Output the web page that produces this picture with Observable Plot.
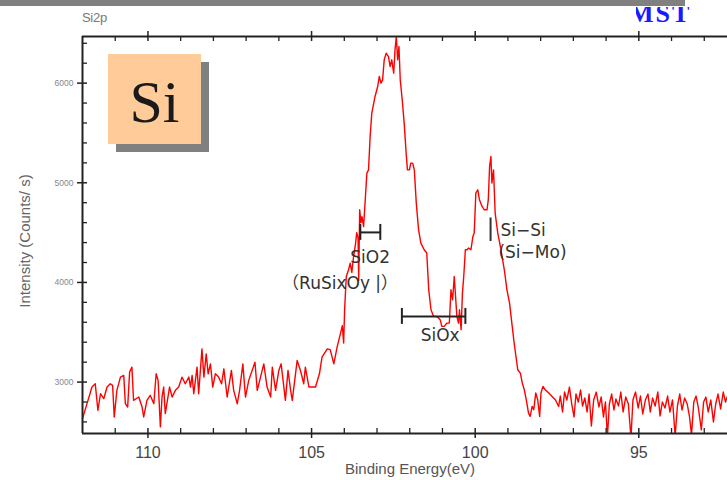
<!DOCTYPE html>
<html>
<head>
<meta charset="utf-8">
<script src="https://cdn.jsdelivr.net/npm/d3@7"></script>
<script src="https://cdn.jsdelivr.net/npm/@observablehq/plot@0.6"></script>
<style>
  html, body { margin: 0; padding: 0; background: #fff; overflow: hidden; }
  #wrap { position: relative; width: 727px; height: 480px; overflow: hidden; background: #fff; }
  #wrap svg { position: absolute; left: 0; top: 0; }
  .topbar { position: absolute; left: 0; top: 0; width: 685px; height: 6px; background: #808080; }
  .spec { position: absolute; left: 82px; top: 10px; font: 13px "Liberation Sans", Arial, sans-serif; color: #777; letter-spacing: -0.3px; }
  .logo { position: absolute; left: 636px; top: 7px; width: 70px; height: 19px; overflow: hidden; }
  .logo span { position: absolute; left: -7px; top: -8px; font: bold 26px "Liberation Serif", "DejaVu Serif", serif; color: #1a1aff; letter-spacing: 2px; }
  .shadow { position: absolute; left: 116px; top: 62px; width: 93px; height: 90px; background: #808080; }
  .elem { position: absolute; left: 108px; top: 54px; width: 93px; height: 90px; background: #ffcc99;
          font: 60px "Liberation Serif", "DejaVu Serif", serif; color: #1a1a1a; text-align: center; line-height: 96px; }
</style>
</head>
<body>
<div id="wrap">
  <div class="topbar"></div>
  <div class="spec">Si2p</div>
  <div class="logo"><span>MST</span></div>
</div>
<script>
// Si 2p spectrum: binding energy (eV) and intensity (counts/s)
const energy = [
  112.00, 111.71, 111.61, 111.53, 111.45, 111.35, 111.25, 111.15, 111.08, 111.03,
  110.95, 110.84, 110.74, 110.69, 110.62, 110.56, 110.49, 110.44, 110.28, 110.18,
  110.13, 110.03, 109.93, 109.82, 109.75, 109.69, 109.62, 109.57, 109.52, 109.47,
  109.34, 109.26, 109.16, 109.06, 108.96, 108.86, 108.75, 108.70, 108.65, 108.60,
  108.50, 108.45, 108.35, 108.29, 108.22, 108.16, 108.09, 108.02, 107.94, 107.84,
  107.75, 107.68, 107.58, 107.45, 107.38, 107.27, 107.20, 107.10, 107.02, 106.92,
  106.73, 106.66, 106.46, 106.36, 106.25, 106.20, 106.10, 106.00, 105.93, 105.80,
  105.72, 105.64, 105.59, 105.44, 105.34, 105.24, 105.19, 105.08, 104.88, 104.76,
  104.68, 104.52, 104.43, 104.32, 104.22, 104.12, 104.06, 104.02, 103.99, 103.94,
  103.87, 103.82, 103.77, 103.72, 103.66, 103.62, 103.58, 103.56, 103.53, 103.49,
  103.46, 103.41, 103.36, 103.31, 103.26, 103.21, 103.16, 103.06, 102.98, 102.93,
  102.88, 102.83, 102.78, 102.72, 102.65, 102.60, 102.55, 102.49, 102.45, 102.41,
  102.37, 102.33, 102.29, 102.23, 102.17, 102.11, 102.07, 102.01, 101.97, 101.91,
  101.86, 101.80, 101.73, 101.66, 101.56, 101.48, 101.42, 101.35, 101.27, 101.17,
  101.07, 101.02, 100.95, 100.86, 100.79, 100.74, 100.69, 100.64, 100.60, 100.56,
  100.51, 100.48, 100.43, 100.39, 100.35, 100.30, 100.25, 100.20, 100.13, 100.07,
  100.03, 99.98, 99.92, 99.87, 99.79, 99.72, 99.64, 99.60, 99.56, 99.52,
  99.49, 99.44, 99.39, 99.31, 99.25, 99.18, 99.11, 99.03, 98.95, 98.88,
  98.81, 98.74, 98.70, 98.62, 98.56, 98.50, 98.44, 98.37, 98.32, 98.26,
  98.21, 98.15, 98.09, 98.03, 97.99, 97.93, 97.86, 97.75, 97.65, 97.55,
  97.45, 97.40, 97.33, 97.27, 97.20, 97.12, 97.05, 96.98, 96.92, 96.85,
  96.78, 96.72, 96.65, 96.58, 96.52, 96.45, 96.38, 96.30, 96.22, 96.15,
  96.08, 96.02, 95.96, 95.90, 95.83, 95.76, 95.70, 95.62, 95.55, 95.48,
  95.40, 95.32, 95.24, 95.18, 95.10, 95.02, 94.95, 94.88, 94.80, 94.72,
  94.65, 94.58, 94.50, 94.42, 94.35, 94.28, 94.20, 94.12, 94.05, 93.97,
  93.89, 93.82, 93.75, 93.68, 93.60, 93.52, 93.45, 93.39, 93.32, 93.25,
  93.18, 93.09, 93.02, 92.95, 92.88, 92.80, 92.72, 92.65, 92.58, 92.50,
  92.42, 92.35, 92.28
];
const counts = [
  2633, 2950, 2983, 2717, 2883, 2833, 2950, 2983, 2967, 2650,
  2917, 3050, 3067, 2783, 2750, 3100, 3150, 2817, 2850, 2750,
  2650, 2817, 2867, 2783, 3083, 3017, 2550, 2850, 2950, 2683,
  2950, 2850, 2917, 2950, 3050, 2983, 3050, 2950, 3067, 2883,
  3150, 2883, 3333, 3050, 3283, 3083, 3183, 2950, 3083, 3050,
  2983, 3133, 2850, 3117, 2917, 2783, 2917, 3183, 2850, 3017,
  3200, 2917, 3183, 2950, 2850, 3150, 2917, 3117, 3183, 2817,
  3117, 2917, 2817, 3217, 3117, 2983, 3150, 2950, 2950, 3083,
  3250, 3333, 3325, 3183, 3350, 3483, 3567, 3392, 3726, 4060,
  4127, 4194, 4100, 4250, 4380, 4500, 4450, 4020, 4729, 4600,
  4660, 4560, 4829, 5097, 5130, 5465, 5699, 5866, 5966, 6067,
  6000, 6033, 6234, 6301, 6267, 6167, 6234, 6100, 6334, 6468,
  6234, 6368, 6033, 5833, 5599, 5298, 5130, 5130, 5197, 5197,
  5130, 4796, 4528, 4395, 4328, 4295, 3926, 3726, 3659, 3659,
  3626, 3559, 3559, 3592, 3592, 3926, 3826, 4060, 3860, 3659,
  3592, 3726, 3525, 3893, 4060, 4328, 4328, 4345, 4328, 4462,
  4495, 4896, 4930, 4829, 4763, 4729, 4729, 4829, 5164, 5264,
  4997, 5130, 4696, 4495, 4395, 4261, 4127, 3926, 3793, 3592,
  3392, 3224, 3124, 3090, 2990, 2923, 2823, 2689, 2656, 2756,
  2723, 2890, 2823, 2656, 2890, 2957, 2923, 2890, 2856, 2823,
  2756, 2860, 2700, 2900, 2820, 2950, 2780, 2650, 2880, 2800,
  2920, 2760, 2840, 2700, 2880, 2560, 2820, 2900, 2750, 2850,
  2650, 2800, 2450, 2780, 2880, 2720, 2830, 2760, 2900, 2700,
  2850, 2780, 2440, 2820, 2900, 2740, 2860, 2680, 2820, 2880,
  2700, 2840, 2760, 2900, 2660, 2800, 2740, 2860, 2700, 2820,
  2460, 2760, 2880, 2720, 2840, 2780, 2650, 2470, 2800, 2860,
  2740, 2520, 2800, 2850, 2700, 2820, 2600, 2780, 2880, 2730,
  2900, 2800, 2870
];

// Axis ticks and labels
const xMajor = [110, 105, 100, 95];
const xMinor = [111, 109, 108, 107, 106, 104, 103, 102, 101, 99, 98, 97, 96, 94, 93];
const yMajor = [3000, 4000, 5000, 6000];
const yMinor = [2600, 2800, 3200, 3400, 3600, 3800, 4200, 4400, 4600, 4800, 5200, 5400, 5600, 5800, 6200, 6400];

// Peak assignments: bracketed ranges and a single marker
const brackets = [
  {from: 103.51, to: 102.90, level: 4502},
  {from: 102.24, to: 100.30, level: 3659}
];
const markers = [{at: 99.53, low: 4411, high: 4647}];
// labels centred under their bracket
const notesCentered = [
  {x: 103.21, y: 4251, text: "SiO2"},
  {x: 101.07, y: 3469, text: "SiOx"}
];
// labels that start at a given energy
const notesLeft = [
  {x: 105.90, y: 3990, text: "（RuSixOy |）"},
  {x: 99.23, y: 4522, text: "Si−Si"},
  {x: 99.29, y: 4301, text: "(Si−Mo)"}
];

const xDomain = [112, 92.29];
const yDomain = [2484, 6468];

const spectrum = energy.map((e, i) => ({e, c: counts[i]}));

const W = 727, H = 480, mL = 82, mR = 0, mT = 36, mB = 47;
const innerW = W - mL - mR, innerH = H - mT - mB;
const tick = 5;
const axisColor = "#222";
const noteFont = "'DejaVu Sans', 'Noto Sans CJK JP', sans-serif";

const chart = Plot.plot({
  width: W,
  height: H,
  marginLeft: mL,
  marginRight: mR,
  marginTop: mT,
  marginBottom: mB,
  style: {fontFamily: "'Liberation Sans', Arial, sans-serif", background: "transparent", overflow: "visible"},
  x: {domain: xDomain, axis: null},
  y: {domain: yDomain, axis: null},
  marks: [
    // spectrum
    Plot.line(spectrum, {x: "e", y: "c", stroke: "#ff0000", strokeWidth: 1.4, clip: true}),

    // frame: left, bottom and top axis lines
    Plot.ruleX([xDomain[0]], {stroke: axisColor, strokeWidth: 2}),
    Plot.ruleY([yDomain[0]], {stroke: axisColor, strokeWidth: 2}),
    Plot.ruleY([yDomain[1]], {stroke: axisColor, strokeWidth: 2}),

    // bottom ticks (inward; majors cross the axis)
    Plot.ruleX(xMinor, {stroke: axisColor, strokeWidth: 1.3, insetTop: innerH - tick}),
    Plot.ruleX(xMajor, {stroke: axisColor, strokeWidth: 1.5, insetTop: innerH - tick, insetBottom: -tick}),
    // top ticks
    Plot.ruleX(xMinor, {stroke: axisColor, strokeWidth: 1.3, insetBottom: innerH - tick}),
    Plot.ruleX(xMajor, {stroke: axisColor, strokeWidth: 1.5, insetBottom: innerH - tick, insetTop: -tick}),
    // left ticks
    Plot.ruleY(yMinor, {stroke: axisColor, strokeWidth: 1.3, insetRight: innerW - tick}),
    Plot.ruleY(yMajor, {stroke: axisColor, strokeWidth: 1.5, insetRight: innerW - tick, insetLeft: -tick}),

    // tick labels
    Plot.text(xMajor, {x: d => d, frameAnchor: "bottom", dy: 24, text: d => String(d), fontSize: 16, fill: "#444"}),
    Plot.text(yMajor, {y: d => d, frameAnchor: "left", dx: -9, textAnchor: "end", text: d => String(d), fontSize: 8.5, fill: "#888"}),

    // axis titles
    Plot.text(["Binding Energy(eV)"], {frameAnchor: "bottom", dx: 5, dy: 40, fontSize: 15, fill: "#555"}),
    Plot.text(["Intensity (Counts/ s)"], {frameAnchor: "left", textAnchor: "middle", rotate: -90, dx: -57, dy: 6,
      fontSize: 15, letterSpacing: 0.8, fill: "#666"}),

    // assignment brackets
    Plot.link(brackets, {x1: "from", x2: "to", y1: "level", y2: "level", stroke: "#222", strokeWidth: 2}),
    Plot.ruleX(brackets, {x: "from", y1: d => d.level - 80, y2: d => d.level + 80, stroke: "#222", strokeWidth: 2}),
    Plot.ruleX(brackets, {x: "to", y1: d => d.level - 80, y2: d => d.level + 80, stroke: "#222", strokeWidth: 2}),
    Plot.ruleX(markers, {x: "at", y1: "low", y2: "high", stroke: "#333", strokeWidth: 2}),

    // assignment labels
    Plot.text(notesCentered, {x: "x", y: "y", text: "text", textAnchor: "middle", fontSize: 17, fill: "#333", fontFamily: noteFont}),
    Plot.text(notesLeft, {x: "x", y: "y", text: "text", textAnchor: "start", fontSize: 17, fill: "#333", fontFamily: noteFont})
  ]
});

const wrap = document.getElementById("wrap");
wrap.insertBefore(chart, wrap.firstChild);

// element badge drawn over the plot area
const shadow = document.createElement("div");
shadow.className = "shadow";
const badge = document.createElement("div");
badge.className = "elem";
badge.textContent = "Si";
wrap.appendChild(shadow);
wrap.appendChild(badge);
</script>
</body>
</html>
